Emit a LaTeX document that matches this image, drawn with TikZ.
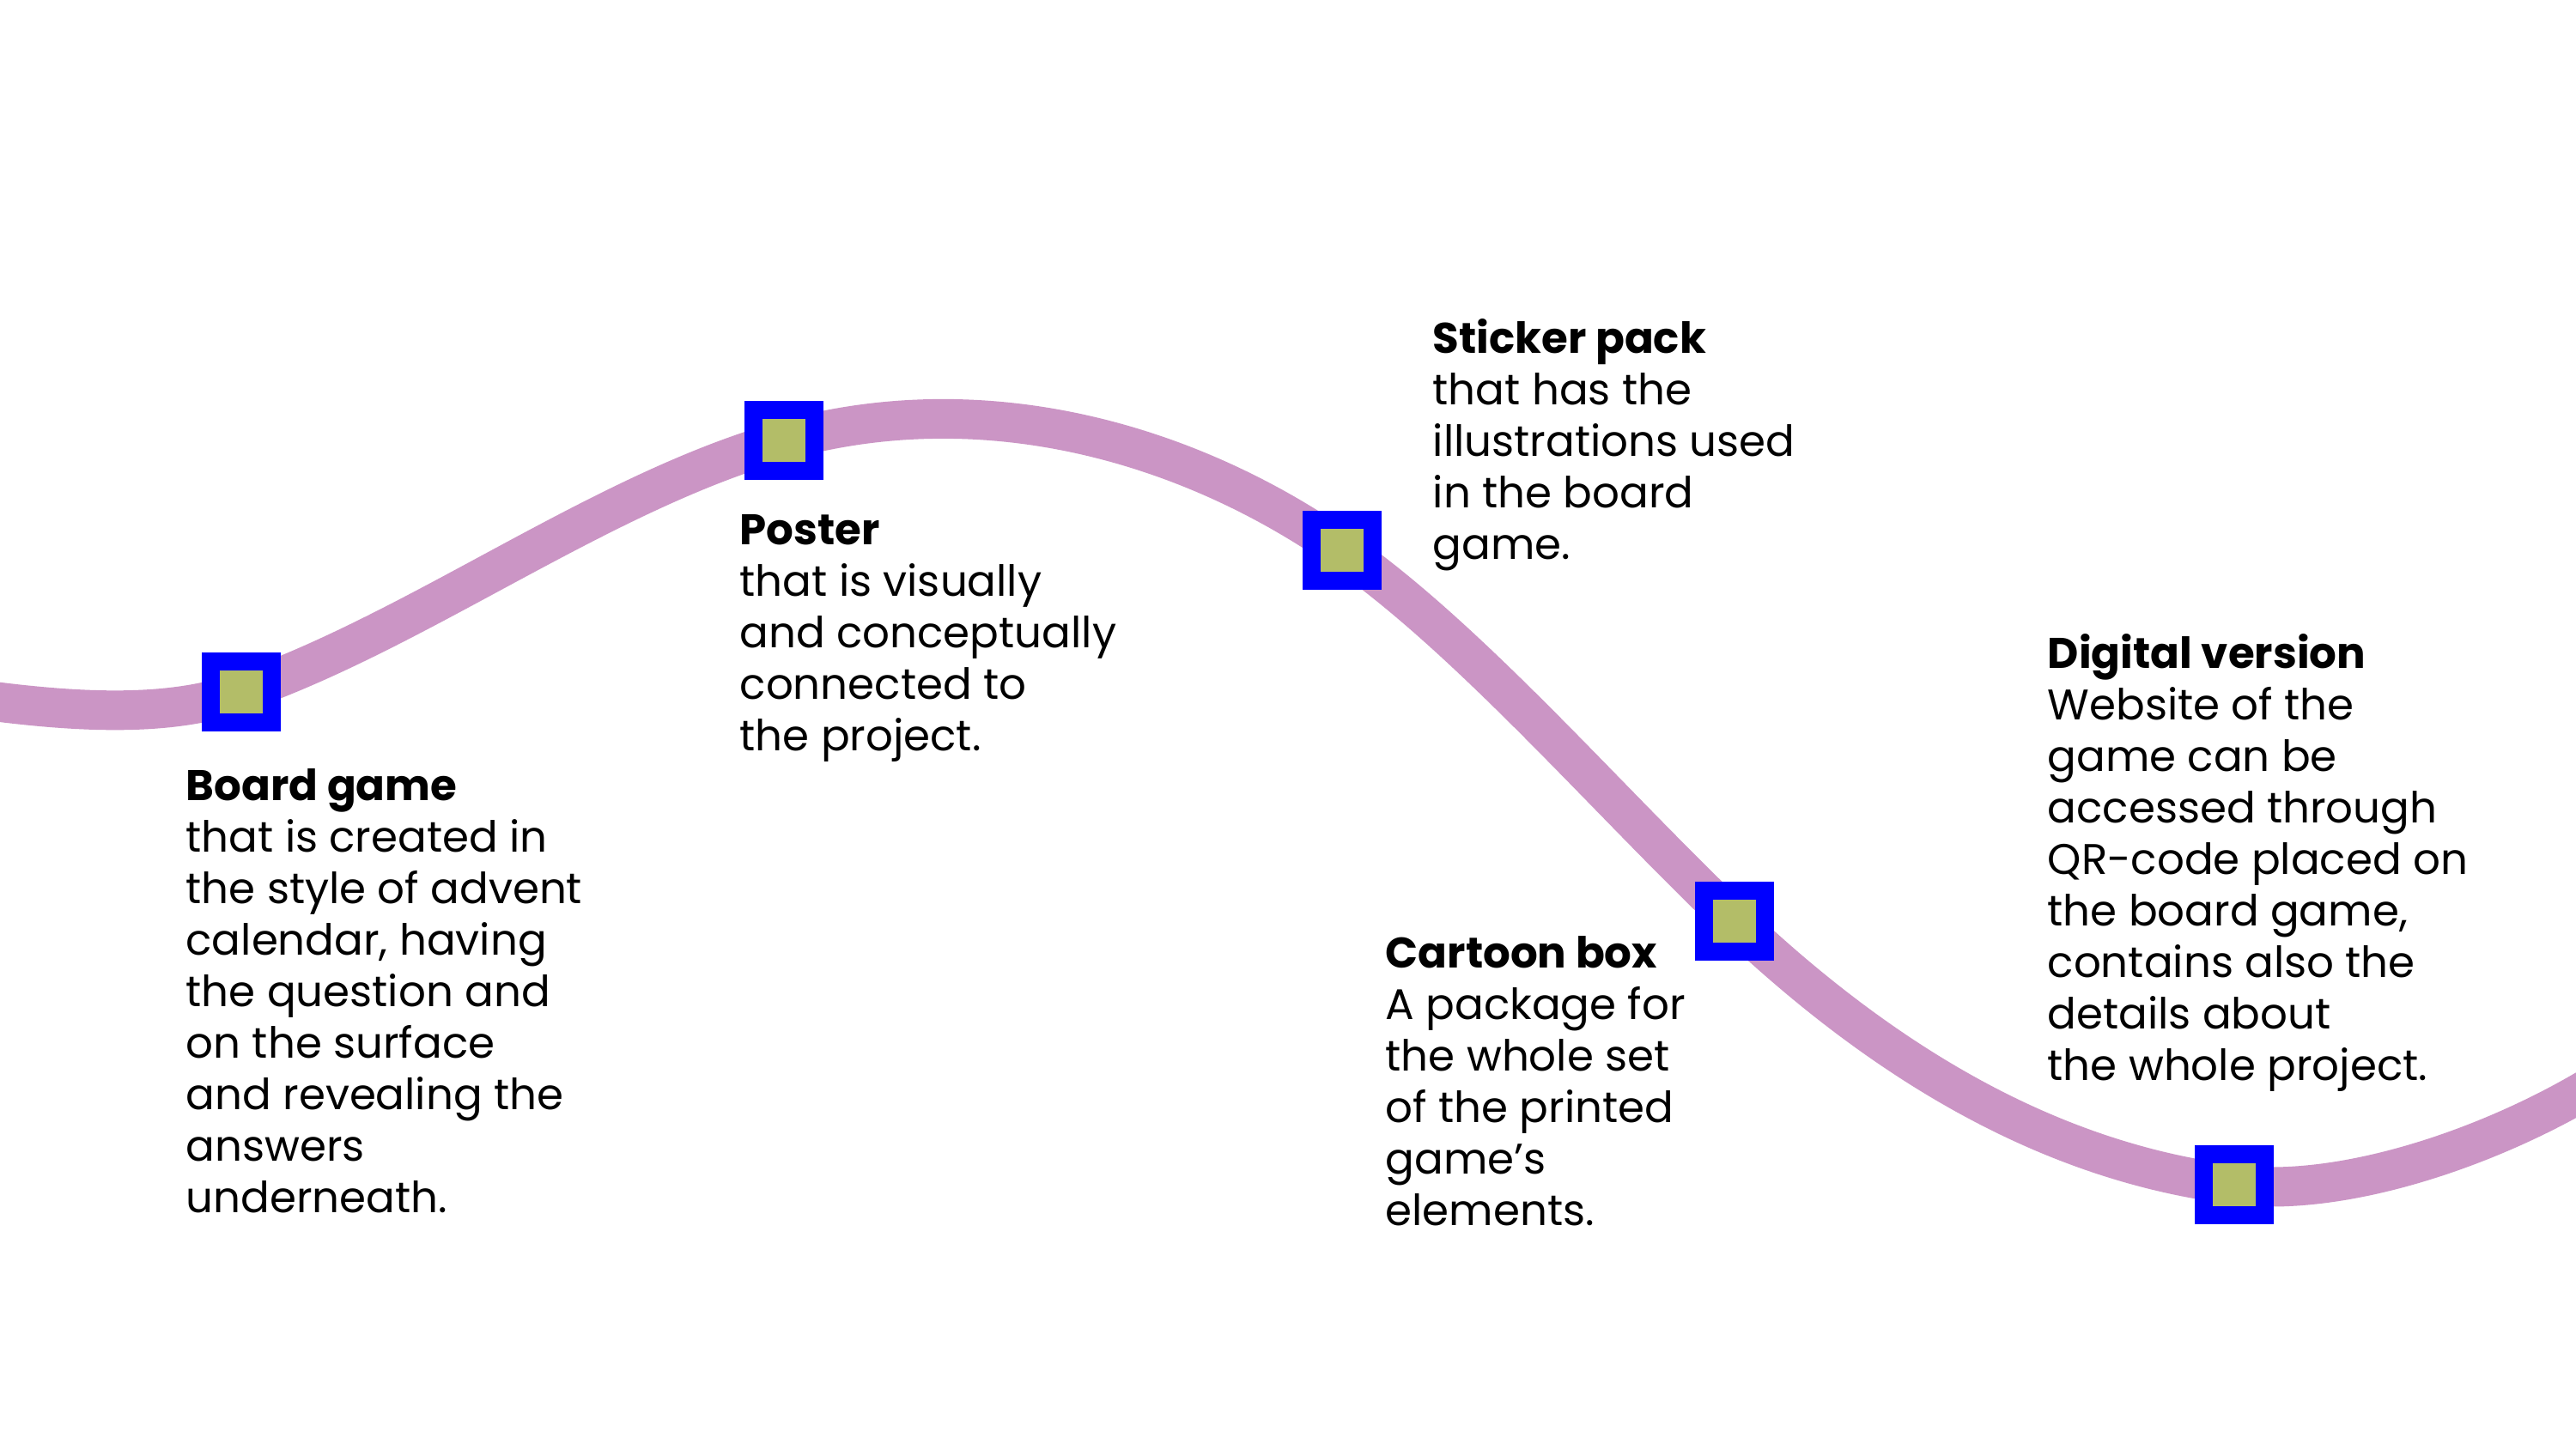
\documentclass[tikz,border=0pt]{standalone}
\usepackage{fontspec}
\setmainfont{Poppins}
\usepackage{tikz}
\usetikzlibrary{positioning}

\definecolor{trackpink}{HTML}{CB95C5}
\definecolor{stopblue}{HTML}{0000FF}
\definecolor{stopgreen}{HTML}{B3BD68}

\tikzset{
	track/.style={line width=0.46cm, trackpink},
	stop/.style={rectangle, draw=stopblue, line width=0.21cm, fill=stopgreen, minimum size=0.71cm, inner sep=0},
	info/.style={anchor=north west, align=left, inner sep=0, font=\fontsize{14.2}{17.07}\selectfont}
}
\newcommand{\titre}[1]{{\bfseries #1}} % titre en gras

\begin{document}
\begin{tikzpicture}
		\useasboundingbox [fill=white] (0,0) rectangle (30,16.88);
		% points de la courbe
		\coordinate (start) at (-0.3,8.74);
		\coordinate (board) at (2.81,8.82);
		\coordinate (poster) at (9.13,11.75);
		\coordinate (sticker) at (15.63,10.47);
		\coordinate (cartoon) at (20.20,6.15);
		\coordinate (digital) at (26.02,3.08);
		\coordinate (end) at (30.3,4.30);
		
		\draw [track] (start) .. controls (1.0,8.56) and (2.01,8.54) .. (board)
			.. controls (4.9,9.55) and (7.0,11.15) .. (poster)
			.. controls (11.43,12.39) and (13.8,11.75) .. (sticker)
			.. controls (17.13,9.42) and (18.70,7.58) .. (cartoon)
			.. controls (22.1,4.35) and (24.02,3.33) .. (digital)
			.. controls (27.32,2.92) and (29.1,3.55) .. (end);
		
		\node [stop] (boardstop) at (board) {};
		\node [stop] (posterstop) at (poster) {};
		\node [stop] (stickerstop) at (sticker) {};
		\node [stop] (cartoonstop) at (cartoon) {};
		\node [stop] (digitalstop) at (digital) {};
		
		\node [info] (boardtxt) at (2.16,7.93) {\titre{Board game}\\that is created in\\the style of advent\\calendar, having\\the question and\\on the surface\\and revealing the\\answers\\underneath.};
		\node [info] (postertxt) at (8.61,10.89) {\titre{Poster}\\that is visually\\and conceptually\\connected to\\the project.};
		\node [info] (stickertxt) at (16.68,13.17) {\titre{Sticker pack}\\that has the\\illustrations used\\in the board\\game.};
		\node [info] (cartoontxt) at (16.13,5.98) {\titre{Cartoon box}\\A package for\\the whole set\\of the printed\\game’s\\elements.};
		\node [info] (digitaltxt) at (23.84,9.50) {\titre{Digital version}\\Website of the\\game can be\\accessed through\\QR-code placed on\\the board game,\\contains also the\\details about\\the whole project.};
	\end{tikzpicture}
\end{document}
